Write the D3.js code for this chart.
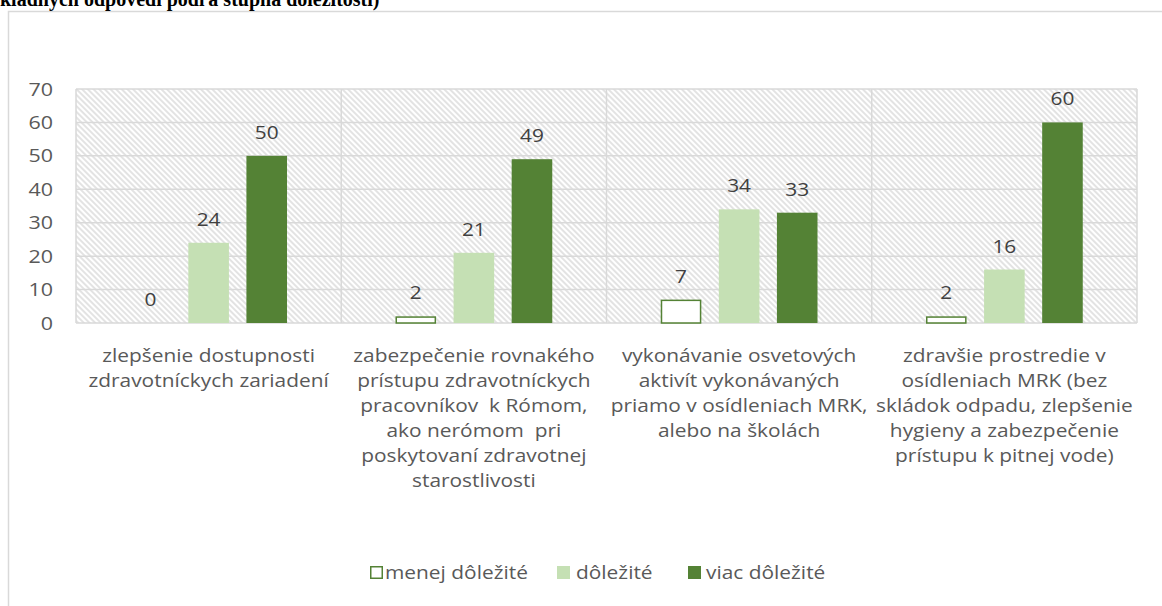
<!DOCTYPE html>
<html><head><meta charset="utf-8">
<script src="https://cdn.jsdelivr.net/npm/d3@7"></script>
<style>body{margin:0;background:#fff;} svg{display:block;}</style>
</head><body>
<svg id="c" width="1162" height="606"></svg>
<script>
const categories = ["c1","c2","c3","c4"];
const categoryLabels = [
  ["zlepšenie dostupnosti","zdravotníckych zariadení"],
  ["zabezpečenie rovnakého","prístupu zdravotníckych","pracovníkov  k Rómom,","ako nerómom  pri","poskytovaní zdravotnej","starostlivosti"],
  ["vykonávanie osvetových","aktivít vykonávaných","priamo v osídleniach MRK,","alebo na školách"],
  ["zdravšie prostredie v","osídleniach MRK (bez","skládok odpadu, zlepšenie","hygieny a zabezpečenie","prístupu k pitnej vode)"]
];
const seriesNames = ["menej dôležité","dôležité","viac dôležité"];
const menej = [0,2,7,2];
const dolezite = [24,21,34,16];
const viac = [50,49,33,60];
const yTicks = [0,10,20,30,40,50,60,70];
const titleText = "kladných odpovedí podľa stupňa dôležitosti)";

const series = [menej, dolezite, viac];
const fills = ["#ffffff","#c5e0b4","#548235"];
const strokes = ["#548235","none","none"];
const font = "'Open Sans', 'Noto Sans', sans-serif";
const txt = "#595959";
const SX = 1.13; // horizontal stretch of the source picture's text

const svg = d3.select("#c");
const L=76, R=1137, T=89, B=323;

const defs = svg.append("defs");
const pat = defs.append("pattern").attr("id","hatch").attr("patternUnits","userSpaceOnUse")
  .attr("width",4).attr("height",4).attr("patternTransform","rotate(45)");
pat.append("rect").attr("width",4).attr("height",4).attr("fill","#fff");
pat.append("line").attr("x1",0).attr("y1",1).attr("x2",4).attr("y2",1).attr("stroke","#d4d4d4").attr("stroke-width",1.3);

svg.append("rect").attr("x",8.5).attr("y",11.5).attr("width",1200).attr("height",700)
  .attr("fill","#fff").attr("stroke","#d9d9d9").attr("stroke-width",1.5);

svg.append("text").attr("x",0).attr("y",6).attr("font-family","'Liberation Serif', 'Times New Roman', serif")
  .attr("font-weight","bold").attr("font-size",20).attr("fill","#000").text(titleText);

const x = d3.scaleBand().domain(categories).range([L,R]).padding(0);
const y = d3.scaleLinear().domain([0,70]).range([B,T]);
const bw = x.bandwidth();
const barW = bw*0.153, step = bw*0.219;

svg.append("rect").attr("x",L).attr("y",T).attr("width",R-L).attr("height",B-T).attr("fill","url(#hatch)");

svg.append("g").selectAll("line").data(yTicks).join("line")
  .attr("x1",L).attr("x2",R).attr("y1",d=>y(d)).attr("y2",d=>y(d))
  .attr("stroke","#d9d9d9").attr("stroke-width",1.5);
svg.append("g").selectAll("line").data(categories).join("line")
  .attr("x1",d=>x(d)).attr("x2",d=>x(d)).attr("y1",T).attr("y2",B)
  .attr("stroke","#d9d9d9").attr("stroke-width",1.5);
svg.append("line").attr("x1",R).attr("x2",R).attr("y1",T).attr("y2",B).attr("stroke","#d9d9d9").attr("stroke-width",1.5);

// y axis labels
const ya = d3.axisLeft(y).tickValues(yTicks).tickSize(0).tickPadding(0);
const yg = svg.append("g").attr("transform",`translate(${L-23},0)`).call(ya);
yg.select(".domain").remove();
yg.selectAll("text").attr("x",0).attr("font-family",font).attr("font-size",19).attr("fill",txt)
  .attr("transform",`scale(${SX},1)`);

series.forEach((vals,si)=>{
  const data = vals.map((v,i)=>({v,c:categories[i]}));
  svg.append("g").selectAll("rect").data(data.filter(d=>d.v>0)).join("rect")
    .attr("x",d=>x(d.c)+bw/2+(si-1)*step-barW/2 + (si===0?0.75:0))
    .attr("y",d=>y(d.v)+(si===0?0.75:0))
    .attr("width",barW-(si===0?1.5:0))
    .attr("height",d=>y(0)-y(d.v)-(si===0?0.75:0))
    .attr("fill",fills[si]).attr("stroke",strokes[si]).attr("stroke-width",si===0?1.5:0);
  svg.append("g").selectAll("text").data(data).join("text")
    .attr("transform",d=>`translate(${x(d.c)+bw/2+(si-1)*step},${y(d.v)-17}) scale(${SX},1)`)
    .attr("text-anchor","middle").attr("font-family",font).attr("font-size",18.5).attr("fill","#404040")
    .text(d=>d.v);
});

const xa = svg.append("g");
categories.forEach((c,i)=>{
  const t = xa.append("text").attr("text-anchor","middle").attr("font-family",font)
    .attr("transform",`translate(${x(c)+bw/2},0) scale(${SX},1)`)
    .attr("font-size",18.5).attr("fill",txt).style("white-space","pre");
  categoryLabels[i].forEach((ln,j)=>{
    t.append("tspan").attr("x",0).attr("y",362+j*25).text(ln);
  });
});

const leg = svg.append("g");
const legItems = [{x:370,tx:385},{x:557,tx:576},{x:688,tx:706}];
seriesNames.forEach((n,i)=>{
  leg.append("rect").attr("x",legItems[i].x+(i===0?0.75:0)).attr("y",566+(i===0?0.75:0))
    .attr("width",13-(i===0?1.5:0)).attr("height",13-(i===0?1.5:0))
    .attr("fill",fills[i]).attr("stroke",strokes[i]).attr("stroke-width",i===0?1.5:0);
  leg.append("text").attr("transform",`translate(${legItems[i].tx},579) scale(${SX},1)`)
    .attr("font-family",font).attr("font-size",18.5).attr("fill",txt).text(n);
});
</script>
</body></html>
